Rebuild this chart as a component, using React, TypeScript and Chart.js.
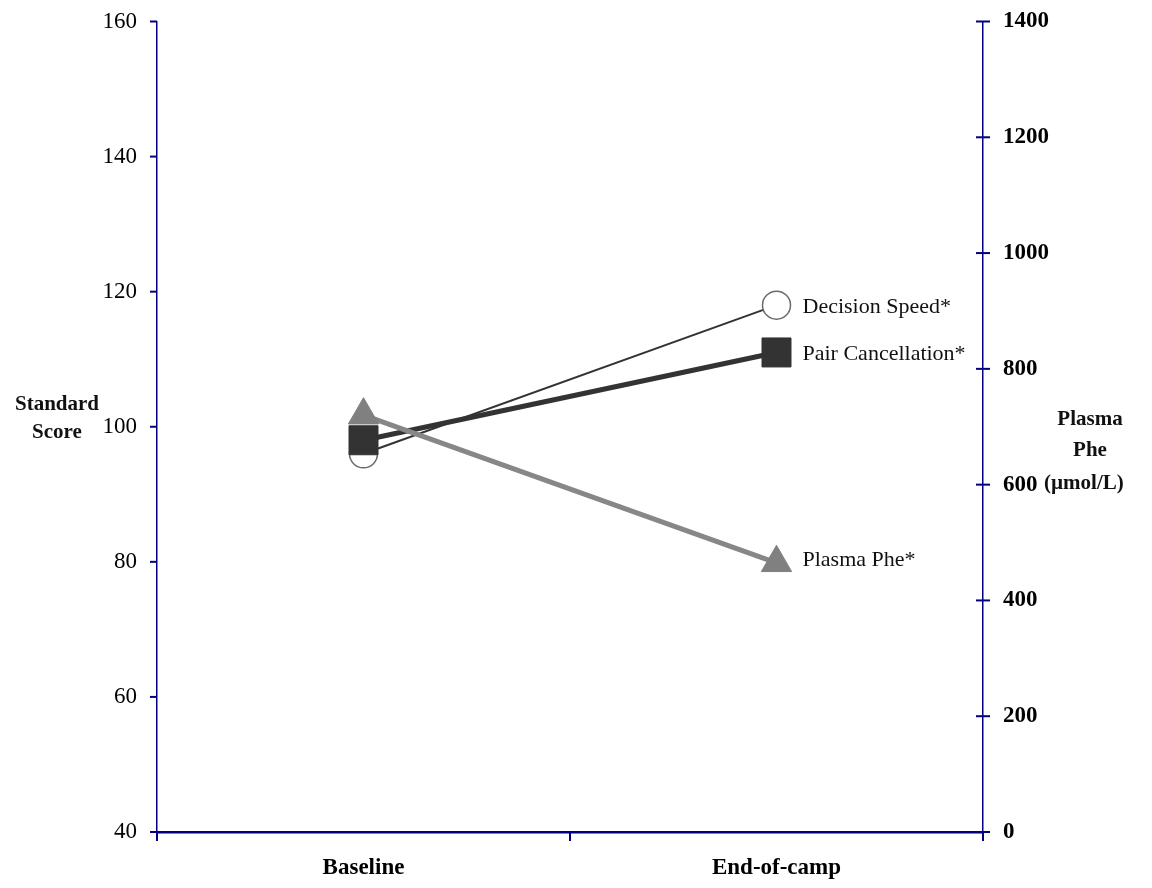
import { useEffect, useRef } from 'react';
import { Chart, registerables } from 'chart.js';

Chart.register(...registerables);

// Time points on the x axis
const categories = ['Baseline', 'End-of-camp'];

// Standard scores (left axis)
const decisionSpeed = [96, 118];
const pairCancellation = [98, 111];

// Plasma Phe in µmol/L (right axis)
const plasmaPhe = [720, 465];

// End-of-line series labels
const seriesLabels = ['Plasma Phe*', 'Pair Cancellation*', 'Decision Speed*'];

// Axis ranges
const leftRange = { min: 40, max: 160, step: 20 };
const rightRange = { min: 0, max: 1400, step: 200 };

const NAVY = '#000080';
const SERIF = '"Liberation Serif", "Times New Roman", serif';

const decorPlugin = {
  id: 'decor',
  afterDraw(chart: any) {
    const ctx = chart.ctx as CanvasRenderingContext2D;
    const { left, right, bottom } = chart.chartArea;
    const ys = chart.scales.y;
    const yr = chart.scales.y1;
    const xs = chart.scales.x;
    ctx.save();
    ctx.strokeStyle = NAVY;
    ctx.lineWidth = 2;
    const seg = (x1: number, y1: number, x2: number, y2: number) => {
      ctx.beginPath();
      ctx.moveTo(x1, y1);
      ctx.lineTo(x2, y2);
      ctx.stroke();
    };
    // left axis: outward tick marks
    ys.ticks.forEach((_t: any, i: number) => {
      const py = ys.getPixelForTick(i);
      seg(left - 7, py, left, py);
    });
    // right axis: crossing tick marks
    yr.ticks.forEach((_t: any, i: number) => {
      const py = yr.getPixelForTick(i);
      seg(right - 7, py, right + 7, py);
    });
    // x axis: tick marks at category boundaries
    for (let i = 0; i <= categories.length; i++) {
      const px = xs.getPixelForValue(i - 0.5);
      seg(px, bottom, px, bottom + 9);
    }

    // series labels next to the last point of each line
    ctx.fillStyle = '#111';
    ctx.font = `22px ${SERIF}`;
    ctx.textAlign = 'left';
    ctx.textBaseline = 'middle';
    chart.data.datasets.forEach((_ds: any, i: number) => {
      const meta = chart.getDatasetMeta(i);
      const pt = meta.data[meta.data.length - 1];
      ctx.fillText(seriesLabels[i], pt.x + 26, pt.y + (i === 0 ? -3 : 2));
    });

    // axis titles
    ctx.textAlign = 'center';
    ctx.font = `bold 21px ${SERIF}`;
    ctx.fillText('Standard', 57, 405);
    ctx.fillText('Score', 57, 433);
    ctx.fillText('Plasma', 1090, 420);
    ctx.fillText('Phe', 1090, 451);
    ctx.textAlign = 'left';
    ctx.fillText('(µmol/L)', 1044, 484);
    ctx.restore();
  },
};

export default function App() {
  const canvasRef = useRef<HTMLCanvasElement | null>(null);

  useEffect(() => {
    if (!canvasRef.current) return;
    const chart = new Chart(canvasRef.current, {
      type: 'line',
      data: {
        labels: categories,
        datasets: [
          {
            label: 'Plasma Phe',
            data: plasmaPhe,
            yAxisID: 'y1',
            borderColor: '#878787',
            borderWidth: 5,
            pointStyle: 'triangle',
            pointRadius: 17.5,
            pointBackgroundColor: '#808080',
            pointBorderColor: '#808080',
            pointBorderWidth: 1,
            order: 0,
          },
          {
            label: 'Pair Cancellation',
            data: pairCancellation,
            yAxisID: 'y',
            borderColor: '#333333',
            borderWidth: 5,
            pointStyle: 'rect',
            pointRadius: 20.5,
            pointBackgroundColor: '#333333',
            pointBorderColor: '#333333',
            pointBorderWidth: 1,
            order: 1,
          },
          {
            label: 'Decision Speed',
            data: decisionSpeed,
            yAxisID: 'y',
            borderColor: '#333333',
            borderWidth: 2,
            pointStyle: 'circle',
            pointRadius: 14,
            pointBackgroundColor: '#ffffff',
            pointBorderColor: '#6a6a6a',
            pointBorderWidth: 1.5,
            order: 2,
          },
        ],
      },
      options: {
        responsive: false,
        maintainAspectRatio: false,
        animation: false,
        clip: false as any,
        layout: { padding: { top: 20, left: 0, right: 0, bottom: 0 } },
        plugins: {
          legend: { display: false },
          tooltip: { enabled: false },
        },
        scales: {
          x: {
            type: 'category',
            offset: true,
            grid: { display: true, drawOnChartArea: false, drawTicks: false, offset: true },
            border: { display: true, color: NAVY, width: 2.5 },
            ticks: {
              color: '#000',
              padding: 22,
              font: { family: SERIF, size: 23, weight: 'bold' },
            },
            afterFit: (s: any) => {
              s.height = 56;
              s.paddingLeft = 0;
              s.paddingRight = 0;
            },
          },
          y: {
            position: 'left',
            min: leftRange.min,
            max: leftRange.max,
            grid: { display: true, drawOnChartArea: false, drawTicks: false },
            border: { display: true, color: NAVY, width: 1.5 },
            ticks: {
              stepSize: leftRange.step,
              color: '#000',
              padding: 20,
              font: { family: SERIF, size: 23 },
            },
            afterFit: (s: any) => {
              s.width = 157;
              s.paddingTop = 0;
              s.paddingBottom = 0;
            },
          },
          y1: {
            position: 'right',
            min: rightRange.min,
            max: rightRange.max,
            grid: { display: true, drawOnChartArea: false, drawTicks: false },
            border: { display: true, color: NAVY, width: 1.5 },
            ticks: {
              stepSize: rightRange.step,
              color: '#000',
              padding: 20,
              font: { family: SERIF, size: 23, weight: 'bold' },
              callback: (v: any) => String(v),
            },
            afterFit: (s: any) => {
              s.width = 169;
              s.paddingTop = 0;
              s.paddingBottom = 0;
            },
          },
        },
      },
      plugins: [decorPlugin],
    });
    return () => chart.destroy();
  }, []);

  return (
    <div style={{ position: 'fixed', left: 0, top: 0, width: 1152, height: 888, background: '#fff' }}>
      <canvas ref={canvasRef} width={1152} height={888} />
    </div>
  );
}
